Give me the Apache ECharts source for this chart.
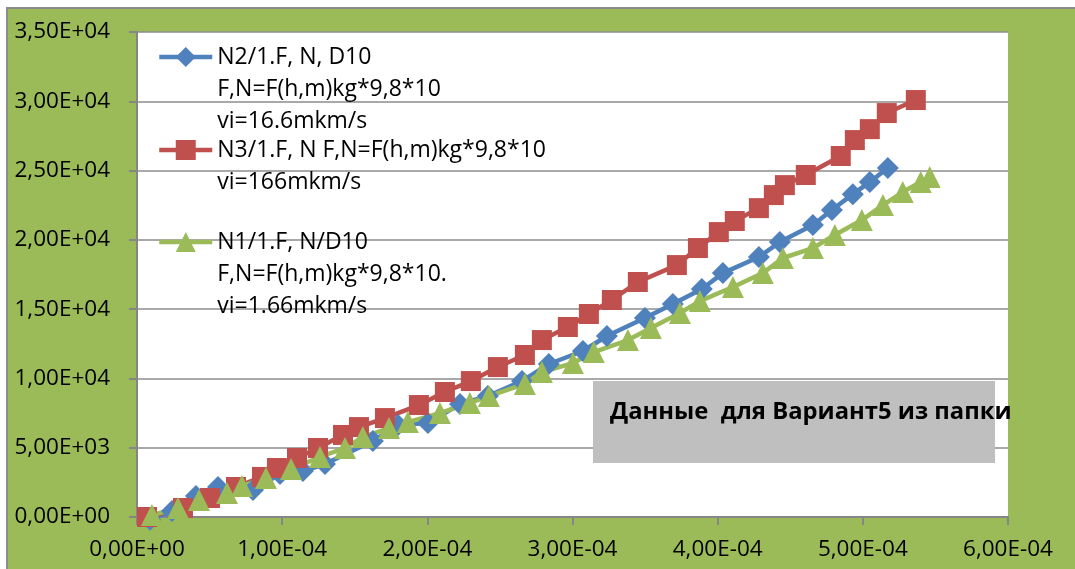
<!DOCTYPE html>
<html>
<head>
<meta charset="utf-8">
<script src="https://cdn.jsdelivr.net/npm/echarts@6/dist/echarts.min.js"></script>
<style>
  html, body { margin: 0; padding: 0; background: #fff; }
  #chart { width: 1075px; height: 569px; }
</style>
</head>
<body>
<div id="chart"></div>
<script>
// Displacement (m) vs force (N) for three indentation runs
const seriesNames = [
  'N2/1.F, N, D10\nF,N=F(h,m)kg*9,8*10\nvi=16.6mkm/s',
  'N3/1.F, N F,N=F(h,m)kg*9,8*10\nvi=166mkm/s',
  'N1/1.F, N/D10\nF,N=F(h,m)kg*9,8*10.\nvi=1.66mkm/s'
];

// N2 — blue diamonds
const n2X = [0.090e-4, 0.241e-4, 0.406e-4, 0.558e-4, 0.799e-4, 0.985e-4, 1.143e-4, 1.295e-4,
  1.625e-4, 1.798e-4, 2.004e-4, 2.225e-4, 2.417e-4, 2.652e-4, 2.837e-4, 3.072e-4,
  3.237e-4, 3.499e-4, 3.691e-4, 3.891e-4, 4.036e-4, 4.284e-4, 4.428e-4, 4.656e-4,
  4.787e-4, 4.931e-4, 5.048e-4, 5.172e-4];
const n2Y = [-200, 430, 1515, 2165, 1950, 3100, 3320, 3820,
  5480, 6640, 6780, 8150, 8730, 9810, 11040, 11980,
  13060, 14360, 15370, 16450, 17600, 18760, 19840, 21070,
  22150, 23300, 24170, 25180];

// N3 — red squares
const n3X = [0.069e-4, 0.317e-4, 0.503e-4, 0.682e-4, 0.861e-4, 0.964e-4, 1.102e-4, 1.247e-4,
  1.419e-4, 1.529e-4, 1.708e-4, 1.942e-4, 2.121e-4, 2.300e-4, 2.486e-4, 2.672e-4,
  2.789e-4, 2.968e-4, 3.113e-4, 3.271e-4, 3.450e-4, 3.719e-4, 3.864e-4, 4.008e-4,
  4.118e-4, 4.284e-4, 4.387e-4, 4.463e-4, 4.607e-4, 4.848e-4, 4.945e-4, 5.048e-4,
  5.165e-4, 5.365e-4];
const n3Y = [0, 650, 1370, 2165, 2890, 3535, 4260, 4980,
  5920, 6490, 7140, 8080, 9020, 9810, 10820, 11690,
  12770, 13710, 14650, 15660, 16960, 18180, 19410, 20560,
  21360, 22290, 23230, 23950, 24680, 26050, 27200, 27990,
  29150, 30090];

// N1 — green triangles
const n1X = [0.103e-4, 0.282e-4, 0.427e-4, 0.620e-4, 0.723e-4, 0.888e-4, 1.061e-4, 1.260e-4,
  1.433e-4, 1.556e-4, 1.736e-4, 1.866e-4, 2.087e-4, 2.293e-4, 2.424e-4, 2.672e-4,
  2.789e-4, 3.003e-4, 3.147e-4, 3.382e-4, 3.540e-4, 3.740e-4, 3.877e-4, 4.105e-4,
  4.311e-4, 4.449e-4, 4.656e-4, 4.807e-4, 4.993e-4, 5.138e-4, 5.275e-4, 5.399e-4,
  5.461e-4];
const n1Y = [140, 650, 1230, 1730, 2240, 2810, 3460, 4330,
  4980, 5770, 6420, 6850, 7500, 8230, 8730, 9600,
  10460, 11110, 11900, 12770, 13640, 14720, 15580, 16600,
  17600, 18690, 19410, 20350, 21430, 22510, 23450, 24170,
  24530];

const noteText = 'Данные  для Вариант5 из папки';

const colors = ['#4F81BD', '#C0504D', '#9BBB59'];
const symbols = ['diamond', 'rect', 'triangle'];
const symbolSizes = [22, 20, 22];

function sci(v) {
  v = Number(v.toPrecision(10));
  if (v === 0) return '0,00E+00';
  let e = Math.floor(Math.log10(Math.abs(v)));
  let m = v / Math.pow(10, e);
  if (Math.abs(m) >= 9.995) { m /= 10; e += 1; }
  return m.toFixed(2).replace('.', ',') + 'E' + (e < 0 ? '-' : '+') + String(Math.abs(e)).padStart(2, '0');
}

function pairs(xs, ys) { return xs.map((x, i) => [x, ys[i]]); }
const dataSets = [pairs(n2X, n2Y), pairs(n3X, n3Y), pairs(n1X, n1Y)];

// One legend block per series so that the marker sits on the first text line
const legendTops = [57, 150, 242];
const legendLineH = 32;
const legends = seriesNames.map((name, i) => {
  const lines = name.split('\n').length;
  const pad = '\n'.repeat(lines - 1);
  const total = (lines * 2 - 1) * legendLineH;
  return {
    data: [name],
    orient: 'vertical',
    left: 157,
    top: legendTops[i] - total / 2,
    padding: 0,
    itemWidth: 53,
    itemHeight: 25,
    lineStyle: { width: 4.5 },
    formatter: n => pad + n,
    textStyle: { fontFamily: '"Open Sans"', fontSize: 23, color: '#000', lineHeight: legendLineH },
    selectedMode: false
  };
});

const axisFont = { color: '#000', fontFamily: '"Open Sans"', fontSize: 22.5 };

const chart = echarts.init(document.getElementById('chart'), null, { renderer: 'canvas' });
chart.setOption({
  animation: false,
  backgroundColor: '#fff',
  graphic: [
    {
      type: 'rect', z: -10, silent: true,
      shape: { x: 7, y: 8, width: 1100, height: 600 },
      style: { fill: '#9BBB59', stroke: '#8C8C8C', lineWidth: 2 }
    },
    {
      type: 'rect', z: 50, silent: true,
      shape: { x: 593, y: 381, width: 402, height: 82 },
      style: { fill: '#BFBFBF' }
    },
    {
      type: 'text', z: 51, silent: true,
      x: 610, y: 412,
      style: { text: noteText, fill: '#000', font: 'bold 23.8px "Open Sans"', verticalAlign: 'middle' }
    }
  ],
  legend: legends,
  grid: {
    left: 137, top: 32, right: 67, bottom: 52,
    show: true, backgroundColor: '#fff', borderWidth: 0
  },
  xAxis: {
    type: 'value', min: 0, max: 0.0006, interval: 0.0001,
    axisLine: { show: true, lineStyle: { color: '#868686', width: 2 } },
    axisTick: { show: true, inside: false, length: 8, lineStyle: { color: '#868686', width: 2 } },
    splitLine: { show: false },
    axisLabel: Object.assign({ formatter: sci, margin: 21, showMinLabel: true, showMaxLabel: true }, axisFont)
  },
  yAxis: {
    type: 'value', min: 0, max: 35000, interval: 5000,
    axisLine: { show: true, lineStyle: { color: '#868686', width: 2 } },
    axisTick: { show: true, inside: false, length: 8, lineStyle: { color: '#868686', width: 2 } },
    splitLine: { show: true, lineStyle: { color: '#8C8C8C', width: 1.5 } },
    axisLabel: Object.assign({ formatter: sci, margin: 27 }, axisFont)
  },
  series: seriesNames.map((name, i) => ({
    name: name,
    type: 'line',
    data: dataSets[i],
    clip: false,
    symbol: symbols[i],
    symbolSize: symbolSizes[i],
    showSymbol: true,
    showAllSymbol: true,
    lineStyle: { color: colors[i], width: 4.5 },
    itemStyle: { color: colors[i], borderWidth: 0 },
    emphasis: { disabled: true }
  }))
});
</script>
</body>
</html>
